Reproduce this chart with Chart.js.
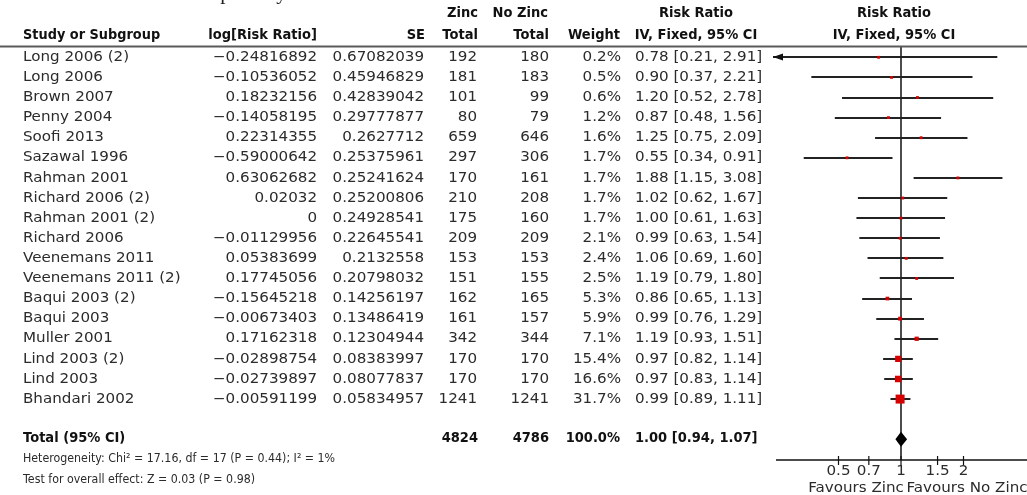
<!DOCTYPE html>
<html>
<head>
<meta charset="utf-8">
<script src="https://cdn.jsdelivr.net/npm/chart.js@4.4.1/dist/chart.umd.min.js"></script>
<style>
  html, body { margin: 0; padding: 0; background: #fff; overflow: hidden; }
  canvas { display: block; }
</style>
</head>
<body>
<canvas id="forest" width="1027" height="495"></canvas>
<script>
// ---- study data -------------------------------------------------------
const studies = ["Long 2006 (2)", "Long 2006", "Brown 2007", "Penny 2004", "Soofi 2013",
  "Sazawal 1996", "Rahman 2001", "Richard 2006 (2)", "Rahman 2001 (2)", "Richard 2006",
  "Veenemans 2011", "Veenemans 2011 (2)", "Baqui 2003 (2)", "Baqui 2003", "Muller 2001",
  "Lind 2003 (2)", "Lind 2003", "Bhandari 2002"];
const logRR = [-0.24816892, -0.10536052, 0.18232156, -0.14058195, 0.22314355, -0.59000642,
  0.63062682, 0.02032, 0, -0.01129956, 0.05383699, 0.17745056, -0.15645218, -0.00673403,
  0.17162318, -0.02898754, -0.02739897, -0.00591199];
const se = [0.67082039, 0.45946829, 0.42839042, 0.29777877, 0.2627712, 0.25375961, 0.25241624,
  0.25200806, 0.24928541, 0.22645541, 0.2132558, 0.20798032, 0.14256197, 0.13486419,
  0.12304944, 0.08383997, 0.08077837, 0.05834957];
const zincTotal = [192, 181, 101, 80, 659, 297, 170, 210, 175, 209, 153, 151, 162, 161, 342, 170, 170, 1241];
const noZincTotal = [180, 183, 99, 79, 646, 306, 161, 208, 160, 209, 153, 155, 165, 157, 344, 170, 170, 1241];
const weight = [0.2, 0.5, 0.6, 1.2, 1.6, 1.7, 1.7, 1.7, 1.7, 2.1, 2.4, 2.5, 5.3, 5.9, 7.1, 15.4, 16.6, 31.7];
const riskRatio = [0.78, 0.90, 1.20, 0.87, 1.25, 0.55, 1.88, 1.02, 1.00, 0.99, 1.06, 1.19, 0.86, 0.99, 1.19, 0.97, 0.97, 0.99];
const ciLower = [0.21, 0.37, 0.52, 0.48, 0.75, 0.34, 1.15, 0.62, 0.61, 0.63, 0.69, 0.79, 0.65, 0.76, 0.93, 0.82, 0.83, 0.89];
const ciUpper = [2.91, 2.21, 2.78, 1.56, 2.09, 0.91, 3.08, 1.67, 1.63, 1.54, 1.60, 1.80, 1.13, 1.29, 1.51, 1.14, 1.14, 1.11];

// pooled estimate
const totalZinc = 4824;
const totalNoZinc = 4786;
const totalWeight = 100.0;
const totalRR = 1.00;
const totalLower = 0.94;
const totalUpper = 1.07;

// axis
const tickValues = [0.5, 0.7, 1, 1.5, 2];
const axisMin = 0.25;
const axisMax = 4;

const heterogeneityText = "Heterogeneity: Chi\u00b2 = 17.16, df = 17 (P = 0.44); I\u00b2 = 1%";
const overallText = "Test for overall effect: Z = 0.03 (P = 0.98)";
const titleText = "Incidence of lower respiratory tract";

// ---- styling ----------------------------------------------------------
const FONT = '"DejaVu Sans", "Liberation Sans", sans-serif';
const REG = '14px ' + FONT, REG_SX = 1.08;
const BOLD = 'bold 14.5px ' + FONT, BOLD_SX = 0.9;
const NOTE = '13px ' + FONT, NOTE_SX = 0.85;
const TEXT = '#2b2b2b';
const INK = '#111';
const RED = '#d60000';

const minus = s => s.replace('-', '\u2212');
const fmt2 = v => v.toFixed(2);
const ciText = (r, lo, hi) => fmt2(r) + ' [' + fmt2(lo) + ', ' + fmt2(hi) + ']';

// draw text with a horizontal stretch factor
function txt(ctx, s, x, y, align, font, sx, color) {
  ctx.save();
  ctx.font = font;
  ctx.fillStyle = color || TEXT;
  ctx.textBaseline = 'middle';
  ctx.textAlign = 'left';
  const w = ctx.measureText(s).width * sx;
  const x0 = align === 'right' ? x - w : (align === 'center' ? x - w / 2 : x);
  ctx.translate(x0, y);
  ctx.scale(sx, 1);
  ctx.fillText(s, 0, 0);
  ctx.restore();
}

const TOTAL_ROW = studies.length + 1;

const forestPlugin = {
  id: 'forest',
  beforeDatasetsDraw(chart) {
    const { ctx, chartArea: a } = chart;
    const xs = chart.scales.x, ys = chart.scales.y;
    const x1 = xs.getPixelForValue(1);

    // line of no effect
    ctx.save();
    ctx.strokeStyle = INK;
    ctx.lineWidth = 1.5;
    ctx.beginPath();
    ctx.moveTo(x1, a.top);
    ctx.lineTo(x1, a.bottom);
    ctx.stroke();

    // confidence intervals
    ctx.strokeStyle = '#222';
    ctx.fillStyle = '#111';
    ctx.lineWidth = 2;
    studies.forEach((_, i) => {
      const y = Math.round(ys.getPixelForValue(i));
      const clipLo = ciLower[i] < axisMin, clipHi = ciUpper[i] > axisMax;
      const xl = clipLo ? a.left - 3 : xs.getPixelForValue(ciLower[i]);
      const xr = clipHi ? a.right + 3 : xs.getPixelForValue(ciUpper[i]);
      ctx.beginPath();
      ctx.moveTo(xl, y);
      ctx.lineTo(xr, y);
      ctx.stroke();
      if (clipLo) {
        ctx.beginPath();
        ctx.moveTo(xl, y);
        ctx.lineTo(xl + 10, y - 3.5);
        ctx.lineTo(xl + 10, y + 3.5);
        ctx.closePath();
        ctx.fill();
      }
      if (clipHi) {
        ctx.beginPath();
        ctx.moveTo(xr, y);
        ctx.lineTo(xr - 10, y - 3.5);
        ctx.lineTo(xr - 10, y + 3.5);
        ctx.closePath();
        ctx.fill();
      }
    });
    ctx.restore();
  },
  afterDatasetsDraw(chart) {
    const { ctx, chartArea: a } = chart;
    const xs = chart.scales.x, ys = chart.scales.y;

    // pooled diamond
    const yt = ys.getPixelForValue(TOTAL_ROW);
    ctx.save();
    ctx.fillStyle = '#000';
    ctx.beginPath();
    ctx.moveTo(xs.getPixelForValue(totalLower), yt);
    ctx.lineTo(xs.getPixelForValue(totalRR), yt - 7.5);
    ctx.lineTo(xs.getPixelForValue(totalUpper), yt);
    ctx.lineTo(xs.getPixelForValue(totalRR), yt + 7.5);
    ctx.closePath();
    ctx.fill();

    // x axis
    ctx.strokeStyle = INK;
    ctx.lineWidth = 1.5;
    ctx.beginPath();
    ctx.moveTo(a.left, a.bottom);
    ctx.lineTo(a.right + 1, a.bottom);
    ctx.stroke();
    ctx.lineWidth = 1.2;
    tickValues.forEach(v => {
      const x = xs.getPixelForValue(v);
      ctx.beginPath();
      ctx.moveTo(x, a.bottom - 4);
      ctx.lineTo(x, a.bottom + 5);
      ctx.stroke();
      txt(ctx, String(v), x, a.bottom + 11.5, 'center', REG, REG_SX);
    });
    ctx.restore();
    txt(ctx, 'Favours Zinc', 856, a.bottom + 28, 'center', REG, REG_SX);
    txt(ctx, 'Favours No Zinc', 967, a.bottom + 28, 'center', REG, REG_SX);
  },
  afterDraw(chart) {
    const { ctx } = chart;
    const ys = chart.scales.y;
    const rowY = i => ys.getPixelForValue(i);

    // cropped title line
    ctx.save();
    ctx.font = '21px "Liberation Serif", serif';
    ctx.fillStyle = '#222';
    ctx.textBaseline = 'alphabetic';
    ctx.textAlign = 'left';
    ctx.fillText(titleText, 33, -1);
    ctx.restore();

    // header rule
    ctx.save();
    ctx.strokeStyle = '#5a5a5a';
    ctx.lineWidth = 2;
    ctx.beginPath();
    ctx.moveTo(0, 46.5);
    ctx.lineTo(1027, 46.5);
    ctx.stroke();
    ctx.restore();

    // column headers
    const h1 = rowY(-2.19), h2 = rowY(-1.1);
    txt(ctx, 'Zinc', 478, h1, 'right', BOLD, BOLD_SX, '#111');
    txt(ctx, 'No Zinc', 548, h1, 'right', BOLD, BOLD_SX, '#111');
    txt(ctx, 'Risk Ratio', 696, h1, 'center', BOLD, BOLD_SX, '#111');
    txt(ctx, 'Risk Ratio', 894, h1, 'center', BOLD, BOLD_SX, '#111');
    txt(ctx, 'Study or Subgroup', 23, h2, 'left', BOLD, 0.89, '#111');
    txt(ctx, 'log[Risk Ratio]', 317, h2, 'right', BOLD, BOLD_SX, '#111');
    txt(ctx, 'SE', 425, h2, 'right', BOLD, BOLD_SX, '#111');
    txt(ctx, 'Total', 478, h2, 'right', BOLD, BOLD_SX, '#111');
    txt(ctx, 'Total', 549, h2, 'right', BOLD, BOLD_SX, '#111');
    txt(ctx, 'Weight', 620, h2, 'right', BOLD, BOLD_SX, '#111');
    txt(ctx, 'IV, Fixed, 95% CI', 696, h2, 'center', BOLD, BOLD_SX, '#111');
    txt(ctx, 'IV, Fixed, 95% CI', 894, h2, 'center', BOLD, BOLD_SX, '#111');

    // study rows
    studies.forEach((name, i) => {
      const y = rowY(i);
      txt(ctx, name, 23, y, 'left', REG, REG_SX);
      txt(ctx, minus(String(logRR[i])), 317, y, 'right', REG, REG_SX);
      txt(ctx, String(se[i]), 424, y, 'right', REG, REG_SX);
      txt(ctx, String(zincTotal[i]), 477, y, 'right', REG, REG_SX);
      txt(ctx, String(noZincTotal[i]), 549, y, 'right', REG, REG_SX);
      txt(ctx, weight[i].toFixed(1) + '%', 621, y, 'right', REG, REG_SX);
      txt(ctx, ciText(riskRatio[i], ciLower[i], ciUpper[i]), 635, y, 'left', REG, REG_SX);
    });

    // pooled row
    const yt = rowY(TOTAL_ROW) - 1.5;
    txt(ctx, 'Total (95% CI)', 23, yt, 'left', BOLD, BOLD_SX, '#111');
    txt(ctx, String(totalZinc), 478, yt, 'right', BOLD, BOLD_SX, '#111');
    txt(ctx, String(totalNoZinc), 549, yt, 'right', BOLD, BOLD_SX, '#111');
    txt(ctx, totalWeight.toFixed(1) + '%', 620, yt, 'right', BOLD, BOLD_SX, '#111');
    txt(ctx, ciText(totalRR, totalLower, totalUpper), 635, yt, 'left', BOLD, BOLD_SX, '#111');

    // footnotes
    txt(ctx, heterogeneityText, 23, rowY(TOTAL_ROW + 0.98), 'left', NOTE, NOTE_SX);
    txt(ctx, overallText, 23, rowY(TOTAL_ROW + 2.03), 'left', NOTE, NOTE_SX);
  }
};

new Chart(document.getElementById('forest'), {
  type: 'scatter',
  data: {
    datasets: [{
      data: studies.map((_, i) => ({ x: riskRatio[i], y: i })),
      pointStyle: 'rect',
      pointRadius: weight.map(w => Math.max(2, 1.13 * Math.sqrt(w))),
      backgroundColor: RED,
      borderWidth: 0
    }]
  },
  options: {
    responsive: false,
    animation: false,
    devicePixelRatio: 1,
    layout: { autoPadding: false, padding: { left: 776, right: 1, top: 47, bottom: 35 } },
    plugins: { legend: { display: false }, tooltip: { enabled: false } },
    scales: {
      x: { type: 'logarithmic', min: axisMin, max: axisMax, display: false },
      y: { type: 'linear', min: -0.512, max: 20.03, reverse: true, display: false }
    }
  },
  plugins: [forestPlugin]
});
</script>
</body>
</html>
